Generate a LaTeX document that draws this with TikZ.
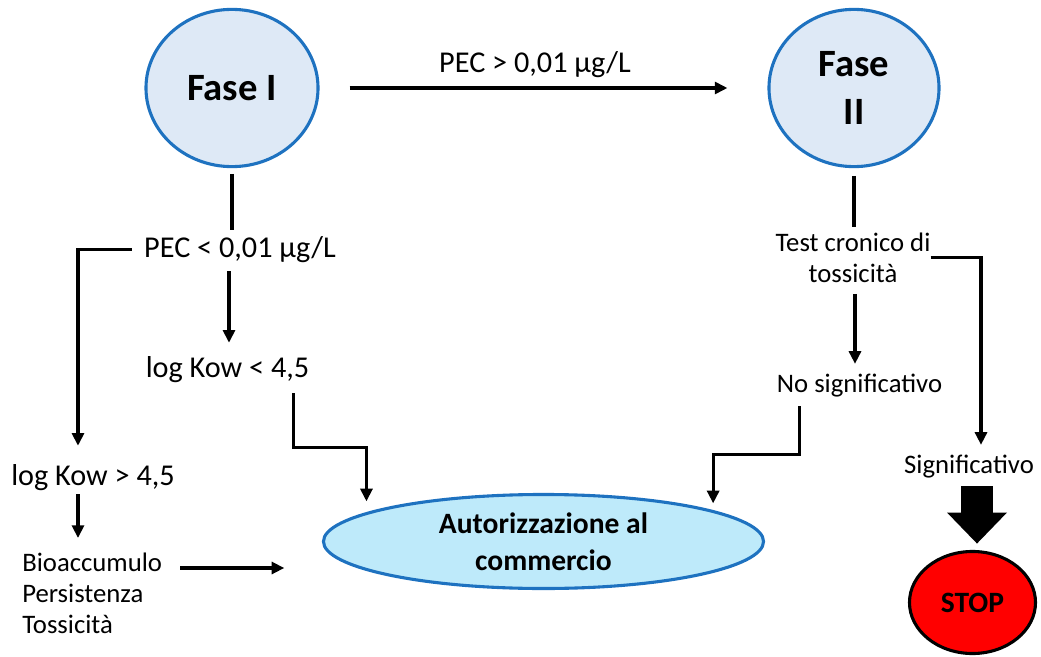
\documentclass[tikz,border=0pt]{standalone}
\usepackage{fontspec}
\setmainfont{Carlito}
\usetikzlibrary{arrows.meta}
\usetikzlibrary{shapes.geometric}

\definecolor{faseblue}{RGB}{30,114,192}
\definecolor{fasefill}{RGB}{222,233,246}
\definecolor{autfill}{RGB}{190,234,250}

\tikzset{
  fase/.style={ellipse, draw=faseblue, line width=2.2pt, fill=fasefill, align=center, inner sep=0pt,
    font=\fontsize{27.5}{34}\selectfont\bfseries},
  lbl/.style={inner sep=0pt, align=center, font=\fontsize{19}{22}\selectfont},
  biglbl/.style={lbl, font=\fontsize{21.5}{26}\selectfont},
  link/.style={line width=2.2pt},
  arr/.style={line width=2.2pt, -{Triangle[width=8.5pt,length=9pt]}},
  blockarr/.style={line width=0.8cm, -{Triangle[length=0.775cm,width=1.5cm,line width=0pt]}},
}

\begin{document}
\begin{tikzpicture}[x=0.025cm, y=-0.025cm]
  \useasboundingbox (0,0) rectangle (1041,657);

  % phases
  \node[fase, minimum width=4.3cm, minimum height=3.93cm] (fase1) at (232,88) {Fase I};
  \node[fase, minimum width=4.25cm, minimum height=3.93cm] (fase2) at (854,88) {Fase\\II};
  \node[fase, fill=autfill, minimum width=11cm, minimum height=2.35cm,
    font=\fontsize{21}{26}\selectfont\bfseries] (autor) at (543.5,541.5) {Autorizzazione al\\commercio};
  \node[ellipse, draw=black, line width=2.2pt, fill=red, minimum width=3.15cm, minimum height=2.55cm,
    font=\fontsize{21}{24}\selectfont\bfseries] (stop) at (972.5,602.5) {STOP};

  % labels
  \node[biglbl, anchor=base] (pecgt) at (535,73) {PEC > 0,01 µg/L};
  \node[biglbl, anchor=base] (peclt) at (240,257) {PEC < 0,01 µg/L};
  \node[biglbl, anchor=base] (kowlt) at (227.5,377) {log Kow < 4,5};
  \node[biglbl, anchor=base] (kowgt) at (93,485) {log Kow > 4,5};
  \node[lbl, align=left, anchor=north west] (bio) at (22,553) {Bioaccumulo\\Persistenza\\Tossicità};
  \node[lbl] (test) at (853,257.7) {Test cronico di\\tossicità};
  \node[lbl, anchor=base] (nosig) at (859.5,392) {No significativo};
  \node[lbl, anchor=base] (sig) at (969,473) {Significativo};

  % phase I branch
  \draw[arr, shorten <=0.75cm, shorten >=1cm] (fase1.east) -- (fase2.west);
  \draw[link, shorten <=0.14cm, shorten >=0.15cm] (fase1.south) -- (fase1.south |- peclt.north);
  \draw[arr, shorten >=0.45cm] ([xshift=-0.3cm]peclt.west) -| ([xshift=-0.375cm]kowgt.north);
  \draw[arr, shorten <=0.22cm, shorten >=0.325cm] ([xshift=-0.275cm]peclt.south) -- ([xshift=-0.275cm]peclt.south |- kowlt.north);
  \draw[arr, shorten <=0.27cm] ([xshift=1.64cm]kowlt.south) -- ++(0,64.7) -| ([xshift=-4.425cm,yshift=-0.21cm]autor.north);
  \draw[arr, shorten <=0.09cm, shorten >=0.375cm] ([xshift=-0.375cm]kowgt.south) -- ([xshift=-0.375cm]kowgt.south |- bio.north);
  \draw[arr, shorten >=0.94cm] ([xshift=0.45cm,yshift=-0.375cm]bio.north east) -- ([yshift=-0.375cm]bio.north east -| autor.west);

  % phase II branch
  \draw[link, shorten <=0.19cm, shorten >=0.135cm] (fase2.south) -- (fase2.south |- test.north);
  \draw[arr, shorten <=0.275cm, shorten >=0.235cm] ([xshift=0.05cm]test.south) -- ([xshift=0.05cm]test.south |- nosig.north);
  \draw[arr, shorten >=0.235cm] (test.east) -| ([xshift=0.3cm]sig.north);
  \draw[arr, shorten <=0.235cm] ([xshift=-1.49cm]nosig.south) -- ++(0,57.4) -| ([xshift=4.24cm,yshift=-0.26cm]autor.north);
  \draw[blockarr, shorten <=0.21cm, shorten >=0.16cm] ([xshift=0.2cm]sig.south) -- ([xshift=0.2cm]sig.south |- stop.north);
\end{tikzpicture}
\end{document}
